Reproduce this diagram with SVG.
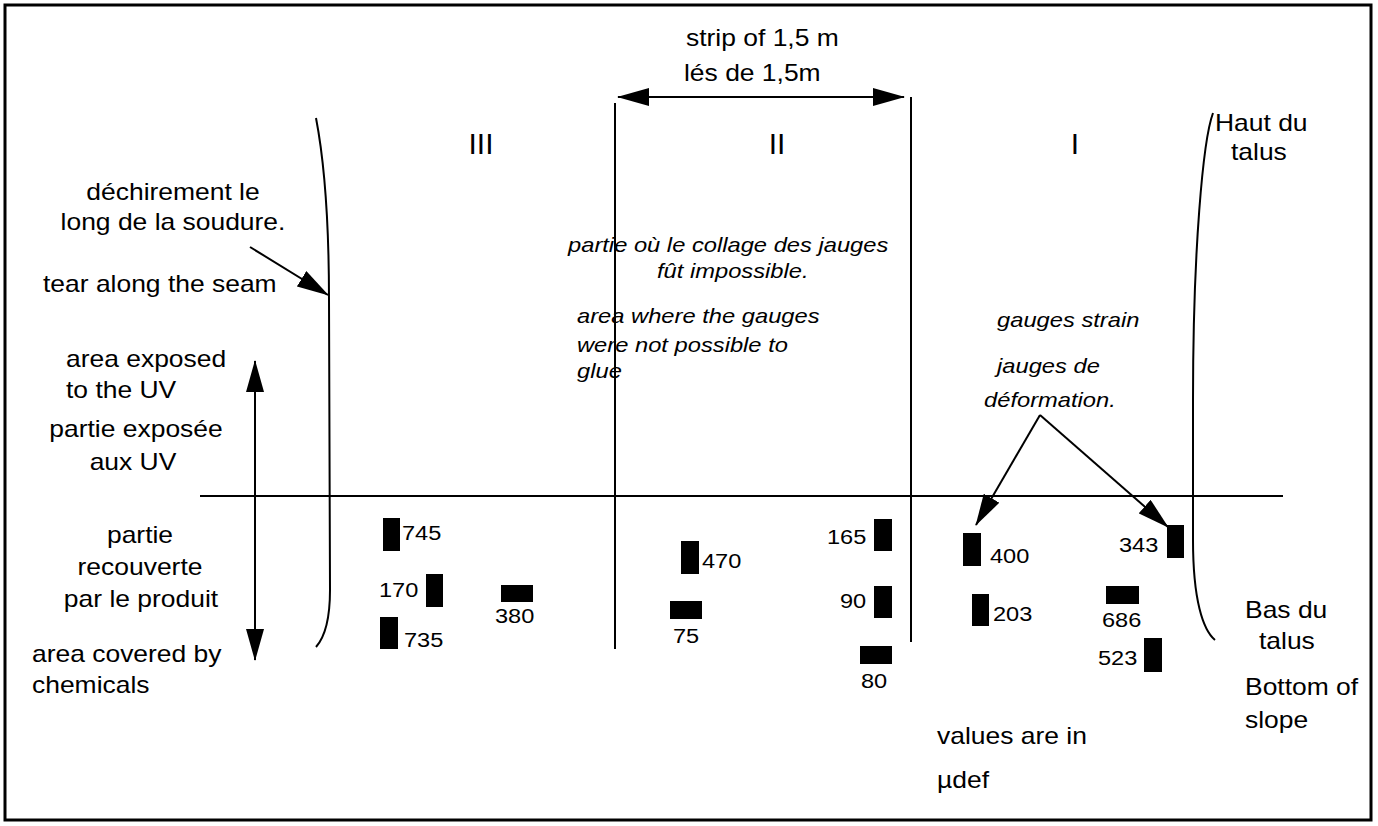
<svg xmlns="http://www.w3.org/2000/svg" width="1378" height="826" viewBox="0 0 1378 826">
<style>
.t{font-family:"Liberation Sans",Arial,sans-serif;font-size:23px;fill:#000}
.i{font-family:"Liberation Sans",Arial,sans-serif;font-size:21px;font-style:italic;fill:#000}
.n{font-family:"Liberation Sans",Arial,sans-serif;font-size:20.5px;fill:#000}
.r{font-family:"Liberation Sans",Arial,sans-serif;font-size:30px;fill:#000;text-anchor:middle}
.m{text-anchor:middle}
.ln{fill:none;stroke:#000;stroke-width:2}
.ar{fill:none;stroke:#000;stroke-width:2;marker-end:url(#ah)}
.g{fill:#000}
</style>
<defs>
<marker id="ah" markerUnits="userSpaceOnUse" markerWidth="32" markerHeight="18" refX="31" refY="9" orient="auto-start-reverse">
<path d="M0,0 L32,9 L0,18 z" fill="#000"/>
</marker>
</defs>
<rect x="5" y="5" width="1366" height="815" fill="#fff" stroke="#000" stroke-width="3"/>

<g id="connectors">
<path id="seam-left" class="ln" d="M316,118 C326,170 329,230 329,300 L330,590 C330,620 324,638 316,647"/>
<path id="seam-right" class="ln" d="M1213,113 C1203,140 1193,250 1193,400 L1193,540 C1193,600 1203,630 1215,640"/>
<line class="ln" x1="200" y1="496" x2="1283" y2="496"/>
<line class="ln" x1="615" y1="103" x2="615" y2="649"/>
<line class="ln" x1="911" y1="97" x2="911" y2="642"/>
<line class="ar" x1="618" y1="97" x2="904" y2="97" style="marker-start:url(#ah)"/>
<line class="ar" x1="255" y1="361" x2="255" y2="660" style="marker-start:url(#ah)"/>
<line class="ar" x1="250" y1="247" x2="328" y2="295"/>
<line class="ar" x1="1040" y1="415" x2="976" y2="525"/>
<line class="ar" x1="1040" y1="415" x2="1168" y2="527"/>
</g>

<g id="labels-left">
<text class="t m" transform="translate(173 200) scale(1.15 1)">déchirement le</text>
<text class="t m" transform="translate(173 230) scale(1.15 1)">long de la soudure.</text>
<text class="t" transform="translate(43 292) scale(1.15 1)">tear along the seam</text>
<text class="t" transform="translate(66 367) scale(1.15 1)">area exposed</text>
<text class="t" transform="translate(66 398) scale(1.15 1)">to the UV</text>
<text class="t m" transform="translate(136 437) scale(1.15 1)">partie exposée</text>
<text class="t m" transform="translate(133 470) scale(1.15 1)">aux UV</text>
<text class="t m" transform="translate(140 543) scale(1.15 1)">partie</text>
<text class="t m" transform="translate(140 575) scale(1.15 1)">recouverte</text>
<text class="t m" transform="translate(141 607) scale(1.15 1)">par le produit</text>
<text class="t" transform="translate(32 662) scale(1.15 1)">area covered by</text>
<text class="t" transform="translate(32 693) scale(1.15 1)">chemicals</text>
</g>

<g id="labels-top">
<text class="t" transform="translate(686 46) scale(1.15 1)">strip of 1,5 m</text>
<text class="t" transform="translate(684 81) scale(1.15 1)">lés de 1,5m</text>
<text class="r" x="481" y="154">III</text>
<text class="r" x="777" y="154">II</text>
<text class="r" x="1075" y="154">I</text>
<text class="t" transform="translate(1215 131) scale(1.15 1)">Haut du</text>
<text class="t" transform="translate(1231 160) scale(1.15 1)">talus</text>
</g>

<g id="labels-italic">
<text class="i" transform="translate(568 252) scale(1.13 1)">partie où le collage des jauges</text>
<text class="i" transform="translate(657 278) scale(1.13 1)">fût impossible.</text>
<text class="i" transform="translate(577 323) scale(1.13 1)">area where the gauges</text>
<text class="i" transform="translate(577 352) scale(1.13 1)">were not possible to</text>
<text class="i" transform="translate(577 378) scale(1.13 1)">glue</text>
<text class="i" transform="translate(997 327) scale(1.13 1)">gauges strain</text>
<text class="i" transform="translate(997 373) scale(1.13 1)">jauges de</text>
<text class="i" transform="translate(984 407) scale(1.13 1)">déformation.</text>
</g>

<g id="labels-right">
<text class="t" transform="translate(1245 618) scale(1.15 1)">Bas du</text>
<text class="t" transform="translate(1259 649) scale(1.15 1)">talus</text>
<text class="t" transform="translate(1245 695) scale(1.15 1)">Bottom of</text>
<text class="t" transform="translate(1245 728) scale(1.15 1)">slope</text>
<text class="t" transform="translate(937 744) scale(1.15 1)">values are in</text>
<text class="t" transform="translate(937 788) scale(1.15 1)">µdef</text>
</g>

<g id="gauge-745"><rect class="g" x="383" y="518" width="17" height="33"/><text class="n" transform="translate(402 540) scale(1.15 1)">745</text></g>
<g id="gauge-170"><rect class="g" x="426" y="574" width="17" height="33"/><text class="n" transform="translate(379 597) scale(1.15 1)">170</text></g>
<g id="gauge-735"><rect class="g" x="380" y="617" width="18" height="32"/><text class="n" transform="translate(404 647) scale(1.15 1)">735</text></g>
<g id="gauge-380"><rect class="g" x="501" y="585" width="32" height="17"/><text class="n" transform="translate(495 623) scale(1.15 1)">380</text></g>
<g id="gauge-470"><rect class="g" x="681" y="541" width="18" height="33"/><text class="n" transform="translate(702 568) scale(1.15 1)">470</text></g>
<g id="gauge-75"><rect class="g" x="670" y="601" width="32" height="18"/><text class="n" transform="translate(673 643) scale(1.15 1)">75</text></g>
<g id="gauge-165"><rect class="g" x="874" y="519" width="18" height="32"/><text class="n" transform="translate(827 544) scale(1.15 1)">165</text></g>
<g id="gauge-90"><rect class="g" x="874" y="586" width="18" height="32"/><text class="n" transform="translate(840 608) scale(1.15 1)">90</text></g>
<g id="gauge-80"><rect class="g" x="860" y="646" width="32" height="18"/><text class="n" transform="translate(861 688) scale(1.15 1)">80</text></g>
<g id="gauge-400"><rect class="g" x="963" y="533" width="18" height="33"/><text class="n" transform="translate(990 563) scale(1.15 1)">400</text></g>
<g id="gauge-343"><rect class="g" x="1167" y="525" width="17" height="33"/><text class="n" transform="translate(1119 552) scale(1.15 1)">343</text></g>
<g id="gauge-203"><rect class="g" x="972" y="594" width="17" height="32"/><text class="n" transform="translate(993 621) scale(1.15 1)">203</text></g>
<g id="gauge-686"><rect class="g" x="1106" y="586" width="33" height="18"/><text class="n" transform="translate(1102 627) scale(1.15 1)">686</text></g>
<g id="gauge-523"><rect class="g" x="1144" y="638" width="18" height="34"/><text class="n" transform="translate(1098 665) scale(1.15 1)">523</text></g>
</svg>
